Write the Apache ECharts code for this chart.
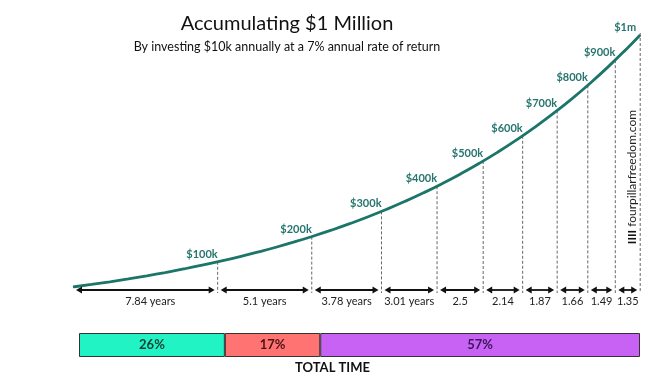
<!DOCTYPE html>
<html>
<head>
<meta charset="utf-8">
<script src="https://cdn.jsdelivr.net/npm/echarts@6/dist/echarts.min.js"></script>
<style>
html,body{margin:0;padding:0;background:#fff;}
#chart{width:665px;height:381px;}
</style>
</head>
<body>
<div id="chart"></div>
<script>
// Balance (thousands of $) by year
const curveYears = [0,1,2,3,4,5,6,7,8,9,10,11,12,13,14,15,16,17,18,19,20,21,22,23,24,25,26,27,28,29,30,30.74];
const curveValues = [0,10,20.7,32.1,44.4,57.5,71.5,86.5,102.6,119.8,138.2,157.8,178.9,201.4,225.5,251.3,278.9,308.4,340,373.8,410,448.7,490.1,534.4,581.8,632.5,686.8,744.8,807,873.5,944.6,1000];
// Milestones
const milestoneValues = [100,200,300,400,500,600,700,800,900,1000];
const milestoneLabels = ['$100k','$200k','$300k','$400k','$500k','$600k','$700k','$800k','$900k','$1m'];
// Years needed to reach each next milestone
const intervals = [7.84,5.1,3.78,3.01,2.5,2.14,1.87,1.66,1.49,1.35];
const intervalLabels = ['7.84 years','5.1 years','3.78 years','3.01 years','2.5','2.14','1.87','1.66','1.49','1.35'];
// Share of total time
const shareLabels = ['26%','17%','57%'];
const shareValues = [26,17,57];
const shareColors = ['#21f3c4','#ff7373','#c762f4'];
const shareTextColors = ['#173d34','#4a1414','#3a1858'];

const milestoneYears = [];
let acc = 0;
intervals.forEach(d => { acc = Math.round((acc + d)*100)/100; milestoneYears.push(acc); });
const intervalStarts = [0].concat(milestoneYears.slice(0, -1));

const FONT = 'Lato';
const chart = echarts.init(document.getElementById('chart'), null, {renderer:'canvas'});

const barSeries = shareValues.map((v,i) => ({
  type:'bar', stack:'t', xAxisIndex:1, yAxisIndex:1, barWidth:24,
  data:[v],
  itemStyle:{color:shareColors[i], borderColor:'#333', borderWidth:1},
  label:{show:true, position:'inside', formatter:shareLabels[i], color:shareTextColors[i],
         fontFamily:FONT, fontWeight:'bold', fontSize:13},
  silent:true
}));

chart.setOption({
  backgroundColor:'#fff',
  animation:false,
  title:{
    text:'Accumulating $1 Million',
    subtext:'By investing $10k annually at a 7% annual rate of return',
    left:282, top:9, textAlign:'center', itemGap:6,
    textStyle:{fontFamily:FONT, fontSize:20, fontWeight:'normal', color:'#111'},
    subtextStyle:{fontFamily:FONT, fontSize:12.5, color:'#111'}
  },
  grid:[
    {left:73, right:24.8, top:35, bottom:94},
    {left:79, right:25, top:333, height:24}
  ],
  xAxis:[
    {type:'value', min:0, max:30.74, show:false, gridIndex:0},
    {type:'value', min:0, max:100, show:false, gridIndex:1}
  ],
  yAxis:[
    {type:'value', min:0, max:1000, show:false, gridIndex:0},
    {type:'category', data:['t'], show:false, gridIndex:1}
  ],
  graphic:[
    {type:'text', left:'center', x:0, top:361, style:{text:'TOTAL TIME', font:'bold 13px '+FONT, fill:'#111'}},
    {type:'text', x:632, y:177, rotation:Math.PI/2,
     style:{text:'{b|IIII} fourpillarfreedom.com', align:'center', verticalAlign:'middle',
            font:'12px '+FONT, fill:'#222', rich:{b:{font:'bold 12px '+FONT, fill:'#111'}}}}
  ],
  series:[
    {
      type:'line', xAxisIndex:0, yAxisIndex:0, smooth:true, showSymbol:false, silent:true,
      data:curveYears.map((t,i)=>[t, curveValues[i]]),
      lineStyle:{color:'#1b7568', width:2.8}, z:5
    },
    {
      type:'custom', xAxisIndex:0, yAxisIndex:0, silent:true, z:4,
      data:milestoneYears.map((t,i)=>[t, milestoneValues[i], i]),
      renderItem:function(params, api){
        const t = api.value(0), v = api.value(1), i = api.value(2);
        const p = api.coord([t, v]);
        const b = api.coord([t, 0]);
        return {type:'group', children:[
          {type:'line', shape:{x1:p[0], y1:p[1]-(i===9?2:0), x2:p[0], y2:b[1]+6},
           style:{stroke:'#666', lineWidth:1, lineDash:[3,2]}},
          {type:'text', x:p[0]-(i===9?4:0), y:p[1]-2, z2:10,
           style:{text:milestoneLabels[i], align:'right', verticalAlign:'bottom',
                  font:'bold 11px '+FONT, fill:'#27756f'}}
        ]};
      }
    },
    {
      type:'custom', xAxisIndex:0, yAxisIndex:0, silent:true, z:6,
      data:intervals.map((d,i)=>[intervalStarts[i], milestoneYears[i], i]),
      renderItem:function(params, api){
        const i = api.value(2);
        const a = api.coord([api.value(0), 0]);
        const b = api.coord([api.value(1), 0]);
        const y = a[1] + 3;
        const x1 = a[0] + 3, x2 = b[0] - 3;
        const L = 6, H = 3.5;
        return {type:'group', children:[
          {type:'line', shape:{x1:x1+2, y1:y, x2:x2-2, y2:y}, style:{stroke:'#111', lineWidth:1.8}},
          {type:'polygon', shape:{points:[[x1,y],[x1+L,y-H],[x1+L,y+H]]}, style:{fill:'#111'}},
          {type:'polygon', shape:{points:[[x2,y],[x2-L,y-H],[x2-L,y+H]]}, style:{fill:'#111'}},
          {type:'text', x:(x1+x2)/2 + (i===0?5:0), y:y+11,
           style:{text:intervalLabels[i], align:'center', verticalAlign:'middle',
                  font:'11px '+FONT, fill:'#222'}}
        ]};
      }
    }
  ].concat(barSeries)
});
</script>
</body>
</html>
